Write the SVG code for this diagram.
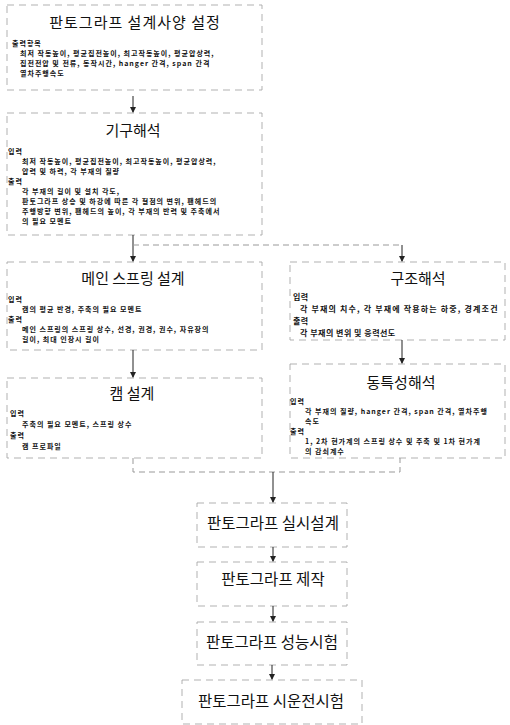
<svg xmlns="http://www.w3.org/2000/svg" width="510" height="725" viewBox="0 0 510 725">
<defs>
<style>
.box{fill:none;stroke:#a8a8a8;stroke-width:0.9;stroke-dasharray:7 5}
.t{font-family:"Noto Sans CJK KR","Noto Sans",sans-serif;fill:#111;text-anchor:middle}
.t1{font-size:15px}
.t1w{font-size:15px;letter-spacing:1px}
.t2{font-size:15.5px}
.b{font-family:"Noto Sans CJK KR","Noto Sans",sans-serif;fill:#111;font-size:7px;font-weight:bold;letter-spacing:1px}
.bw{font-size:8px;letter-spacing:0.5px}
.c{fill:none;stroke:#222;stroke-width:1}
.d{fill:none;stroke:#999;stroke-width:1;stroke-dasharray:6 4}
</style>
<marker id="ah" markerWidth="6" markerHeight="6" refX="5" refY="3" orient="auto" markerUnits="userSpaceOnUse">
<path d="M0,0 L6,3 L0,6 z" fill="#222"/>
</marker>
</defs>
<rect width="510" height="725" fill="#fff"/>

<g id="n1">
<rect class="box" x="7" y="5" width="255" height="85"/>
<text class="t t1w" x="135" y="28">판토그라프 설계사양 설정</text>
<text class="b" x="12" y="46">출력항목</text>
<text class="b" x="20" y="56">최저 작동높이, 평균집전높이, 최고작동높이, 평균압상력,</text>
<text class="b" x="20" y="66">집전전압 및 전류, 동작시간, hanger 간격, span 간격</text>
<text class="b" x="20" y="76">열차주행속도</text>
</g>

<g id="n2">
<rect class="box" x="7" y="113" width="255" height="122"/>
<text class="t t1" x="133" y="136">기구해석</text>
<text class="b" x="8" y="154">입력</text>
<text class="b" x="22" y="164">최저 작동높이, 평균집전높이, 최고작동높이, 평균압상력,</text>
<text class="b" x="22" y="174">압력 및 하력, 각 부재의 질량</text>
<text class="b" x="8" y="184">출력</text>
<text class="b" x="22" y="194">각 부재의 길이 및 설치 각도,</text>
<text class="b" x="22" y="204">판토그라프 상승 및 하강에 따른 각 절점의 변위, 팬헤드의</text>
<text class="b" x="22" y="214">주행방향 변위, 팬헤드의 높이, 각 부재의 반력 및 주축에서</text>
<text class="b" x="22" y="224">의 필요 모멘트</text>
</g>

<g id="n3">
<rect class="box" x="7" y="262" width="255" height="88"/>
<text class="t t1" x="133" y="284">메인 스프링 설계</text>
<text class="b" x="8" y="302">입력</text>
<text class="b" x="22" y="312">캠의 평균 반경, 주축의 필요 모멘트</text>
<text class="b" x="8" y="322">출력</text>
<text class="b" x="22" y="332">메인 스프링의 스프링 상수, 선경, 권경, 권수, 자유장의</text>
<text class="b" x="22" y="342">길이, 최대 인장시 길이</text>
</g>

<g id="n4">
<rect class="box" x="290" y="262" width="215" height="78"/>
<text class="t t1" x="418" y="284">구조해석</text>
<text class="b bw" x="293" y="300">입력</text>
<text class="b bw" x="300" y="312" textLength="198" lengthAdjust="spacing">각 부재의 치수, 각 부재에 작용하는 하중, 경계조건</text>
<text class="b bw" x="293" y="324">출력</text>
<text class="b bw" x="300" y="336">각 부재의 변위 및 응력선도</text>
</g>

<g id="n5">
<rect class="box" x="290" y="364" width="215" height="94"/>
<text class="t t1" x="401" y="388">동특성해석</text>
<text class="b" x="290" y="404">입력</text>
<text class="b" x="305" y="414">각 부재의 질량, hanger 간격, span 간격, 열차주행</text>
<text class="b" x="305" y="424">속도</text>
<text class="b" x="290" y="434">출력</text>
<text class="b" x="305" y="444">1, 2차 현가계의 스프링 상수 및 주축 및 1차 현가계</text>
<text class="b" x="305" y="454">의 감쇠계수</text>
</g>

<g id="n6">
<rect class="box" x="7" y="378" width="255" height="80"/>
<text class="t t1" x="132" y="399">캠 설계</text>
<text class="b" x="10" y="416">입력</text>
<text class="b" x="22" y="427">주축의 필요 모멘트, 스프링 상수</text>
<text class="b" x="10" y="438">출력</text>
<text class="b" x="22" y="449">캠 프로파일</text>
</g>

<g id="n7">
<rect class="box" x="197" y="503" width="150" height="44"/>
<text class="t t2" x="273" y="529">판토그라프 실시설계</text>
</g>

<g id="n8">
<rect class="box" x="197" y="562" width="150" height="44"/>
<text class="t t2" x="273" y="585">판토그라프 제작</text>
</g>

<g id="n9">
<rect class="box" x="197" y="622" width="150" height="43"/>
<text class="t t2" x="272" y="648">판토그라프 성능시험</text>
</g>

<g id="n10">
<rect class="box" x="182" y="680" width="180" height="44"/>
<text class="t t2" x="271" y="707">판토그라프 시운전시험</text>
</g>

<g id="connectors">
<line class="c" x1="133" y1="96" x2="133" y2="112" marker-end="url(#ah)"/>
<line class="c" x1="133" y1="235" x2="133" y2="261" marker-end="url(#ah)"/>
<polyline class="d" points="133,245 402,245"/>
<line class="c" x1="402" y1="245" x2="402" y2="261" marker-end="url(#ah)"/>
<line class="c" x1="402" y1="340" x2="402" y2="363" marker-end="url(#ah)"/>
<line class="c" x1="133" y1="350" x2="133" y2="377" marker-end="url(#ah)"/>
<polyline class="d" points="133,458 133,472 400,472 400,458"/>
<line class="c" x1="273" y1="472" x2="273" y2="502" marker-end="url(#ah)"/>
<line class="c" x1="273" y1="547" x2="273" y2="561" marker-end="url(#ah)"/>
<line class="c" x1="273" y1="606" x2="273" y2="621" marker-end="url(#ah)"/>
<line class="c" x1="272" y1="665" x2="272" y2="679" marker-end="url(#ah)"/>
</g>
</svg>
